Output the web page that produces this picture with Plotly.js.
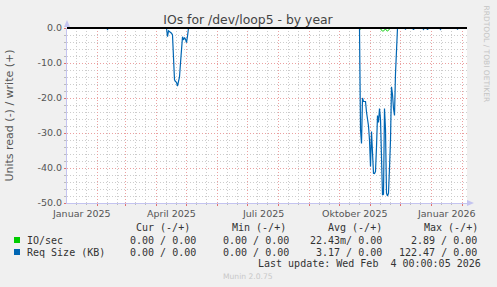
<!DOCTYPE html>
<html><head><meta charset="utf-8">
<script src="https://cdn.plot.ly/plotly-3.0.1.min.js"></script>
<style>html,body{margin:0;padding:0;background:#f0f0f0;}#chart{width:497px;height:287px;}</style>
</head><body><div id="chart"></div>
<script>
// ---- data ----
const reqDates = ['2025-01-01','2025-02-10','2025-02-11','2025-02-12',
 '2025-04-11','2025-04-12','2025-04-13','2025-04-14','2025-04-15','2025-04-16','2025-04-17','2025-04-18','2025-04-19','2025-04-20','2025-04-21','2025-04-22','2025-04-23','2025-04-24','2025-04-25','2025-04-26','2025-04-27','2025-04-28','2025-04-29','2025-04-30','2025-05-01','2025-05-02','2025-05-03',
 '2025-10-20','2025-10-21','2025-10-22','2025-10-23','2025-10-24','2025-10-25','2025-10-26','2025-10-27','2025-10-28','2025-10-29','2025-10-30','2025-10-31','2025-11-01','2025-11-02','2025-11-03','2025-11-04','2025-11-05','2025-11-06','2025-11-07','2025-11-08','2025-11-09','2025-11-10','2025-11-11','2025-11-12','2025-11-13','2025-11-14','2025-11-15','2025-11-16','2025-11-17','2025-11-18','2025-11-19','2025-11-20','2025-11-21','2025-11-22','2025-11-23','2025-11-24','2025-11-25','2025-11-26','2025-11-27','2025-11-28',
 '2025-12-05','2025-12-06','2025-12-07','2025-12-13','2025-12-14','2025-12-15','2025-12-23','2025-12-24','2025-12-25','2025-12-27','2025-12-28','2025-12-29','2026-01-09','2026-01-10','2026-01-11','2026-01-26','2026-01-27','2026-01-28','2026-02-04'];
const reqValues = [0,0,-0.4,0,
 0,-2.5,-0.8,-1.0,-1.2,-1.5,-2,-12,-14.8,-15.3,-15.5,-16.6,-15.5,-14,-10,-6,-2.5,-3.4,-2.7,-3.2,-4.2,-2.3,0,
 0,0,-29,-33,-20,-21,-21,-21,-24,-25.5,-28,-32,-39.6,-29.6,-38.6,-41.5,-41.6,-41,-34,-25,-27,-23,-26,-42.5,-47.7,-47.5,-23,-29,-47.2,-48,-47.2,-40,-32,-16.8,-19,-23,-25,-13,-3.4,0,
 0,-0.3,0,0,-0.5,0,0,-0.4,0,0,-0.5,0,0,-0.4,0,0,-0.3,0,0];

const ioDates = ['2025-01-01','2025-10-20','2025-10-22','2025-10-23','2025-10-24','2025-10-30','2025-11-03','2025-11-07','2025-11-09','2025-11-11','2025-11-12','2025-11-13','2025-11-14','2025-11-15','2025-11-16','2025-11-17','2025-11-18','2025-11-19','2025-11-20','2025-11-21','2026-02-04'];
const ioValues = [0,0,-0.3,-0.2,0,-0.1,-0.2,-0.1,0,-0.2,-0.6,-0.9,-0.8,-0.4,-0.3,-0.7,-0.9,-0.6,-0.1,0,0];

const yTickVals = [0,-10,-20,-30,-40,-50];
const yTickText = ['0.0','-10.0','-20.0','-30.0','-40.0','-50.0'];
const xLabelDates = ['2025-01-16','2025-04-16','2025-07-16','2025-10-16','2026-01-16'];
const xLabelText = ['Januar 2025','April 2025','Juli 2025','Oktober 2025','Januar 2026'];

const legendNames = ['IO/sec','Req Size (KB)'];
const legendColors = ['#00cc00','#0066b3'];
const legendHeaders = ['Cur (-/+)','Min (-/+)','Avg (-/+)','Max (-/+)'];
const curVals = ['0.00 / 0.00','0.00 / 0.00'];
const minVals = ['0.00 / 0.00','0.00 / 0.00'];
const avgVals = ['22.43m/ 0.00','3.17 / 0.00'];
const maxVals = ['2.89 / 0.00','122.47 / 0.00'];
const lastUpdate = 'Last update: Wed Feb  4 00:00:05 2026';
const titleText = 'IOs for /dev/loop5 - by year';
const yTitle = 'Units read (-) / write (+)';

// ---- layout helpers ----
const W = 497, H = 287, L = 67, R = 467, T = 28, B = 203;
const px = x => (x - L) / (R - L);
const py = y => (B - y) / (B - T);
const nb = s => s.replace(/ /g, '\u00a0');
const DOTS = '1px,2px';

// grid positions (month starts, and 11th/21st)
const monthStarts = [], minorDays = [];
for (let i = 0; i < 14; i++) {
  const y = 2025 + Math.floor(i / 12), m = (i % 12) + 1;
  const mm = String(m).padStart(2, '0');
  monthStarts.push(`${y}-${mm}-01`);
  minorDays.push(`${y}-${mm}-11`, `${y}-${mm}-21`);
}

const traces = [
  {x: ioDates, y: ioValues, type: 'scatter', mode: 'lines', line: {color: legendColors[0], width: 1}, hoverinfo: 'skip'},
  {x: reqDates, y: reqValues, type: 'scatter', mode: 'lines', line: {color: legendColors[1], width: 1.2}, hoverinfo: 'skip'}
];

const mono = {family: 'DejaVu Sans Mono', size: 10, color: '#333'};
const ann = [];
xLabelDates.forEach((d, i) => ann.push({x: d, xref: 'x', y: py(213), yref: 'paper', text: xLabelText[i], showarrow: false, xanchor: 'center', yanchor: 'middle', font: {family: 'DejaVu Sans', size: 9.5, color: '#555'}, borderpad: 0}));
const hdrLeft = [135, 231, 327, 423];
legendHeaders.forEach((h, i) => ann.push({x: px(hdrLeft[i]), xref: 'paper', y: py(227), yref: 'paper', text: nb(h), showarrow: false, xanchor: 'left', yanchor: 'middle', font: mono, borderpad: 0}));
const colRight = [197, 290, 383, 478];
const rowY = [240, 252];
legendNames.forEach((n, r) => {
  ann.push({x: px(26), xref: 'paper', y: py(rowY[r]), yref: 'paper', text: nb(n), showarrow: false, xanchor: 'left', yanchor: 'middle', font: mono, borderpad: 0});
  [curVals, minVals, avgVals, maxVals].forEach((arr, c) => ann.push({x: px(colRight[c]), xref: 'paper', y: py(rowY[r]), yref: 'paper', text: nb(arr[r]), showarrow: false, xanchor: 'right', yanchor: 'middle', font: mono, borderpad: 0}));
});
ann.push({x: px(482), xref: 'paper', y: py(263.5), yref: 'paper', text: nb(lastUpdate), showarrow: false, xanchor: 'right', yanchor: 'middle', font: mono, borderpad: 0});
ann.push({x: px(248), xref: 'paper', y: py(276), yref: 'paper', text: 'Munin 2.0.75', showarrow: false, xanchor: 'center', yanchor: 'middle', font: {family: 'DejaVu Sans', size: 7.6, color: '#c8c8c8'}, borderpad: 0});
ann.push({x: px(486), xref: 'paper', y: py(53.5), yref: 'paper', text: 'RRDTOOL / TOBI OETIKER', textangle: 90, showarrow: false, xanchor: 'center', yanchor: 'middle', font: {family: 'DejaVu Sans', size: 7.5, color: '#c4c4c4'}, borderpad: 0});

const shapes = [];
minorDays.forEach(d => {
  shapes.push({type: 'line', xref: 'x', yref: 'paper', x0: d, x1: d, y0: 0, y1: 1, line: {color: '#cccccc', width: 1, dash: DOTS}, layer: 'below'});
  shapes.push({type: 'line', xref: 'x', yref: 'paper', x0: d, x1: d, y0: -2 / 175, y1: 0, line: {color: '#bbbbbb', width: 1}, layer: 'below'});
});
legendColors.forEach((c, i) => shapes.push({type: 'rect', xref: 'paper', yref: 'paper', x0: px(14), x1: px(20), y0: py(rowY[i] - 3), y1: py(rowY[i] + 3), fillcolor: c, line: {width: 0}}));
shapes.push({type: 'line', xref: 'paper', yref: 'paper', x0: 0, x1: 1, y0: 1, y1: 1, line: {color: '#000', width: 2}, layer: 'above'});
const axc = '#c4c4f0';
shapes.push({type: 'path', xref: 'paper', yref: 'paper', path: `M ${px(64)} ${py(27)} L ${px(70)} ${py(27)} L ${px(67)} ${py(20)} Z`, fillcolor: axc, line: {width: 0}});
shapes.push({type: 'path', xref: 'paper', yref: 'paper', path: `M ${px(467)} ${py(200)} L ${px(467)} ${py(206)} L ${px(474)} ${py(203)} Z`, fillcolor: axc, line: {width: 0}});

const layout = {
  width: W, height: H,
  margin: {l: L, r: W - R, t: T, b: H - B, pad: 0},
  paper_bgcolor: '#f0f0f0', plot_bgcolor: '#ffffff',
  showlegend: false,
  title: {text: titleText, x: 248 / W, xref: 'container', xanchor: 'center', y: 1 - 19.5 / H, yref: 'container', yanchor: 'middle', font: {family: 'DejaVu Sans', size: 12.4, color: '#444'}},
  xaxis: {
    type: 'date', range: ['2025-01-01 12:00', '2026-02-05 12:00'], fixedrange: true,
    tickmode: 'array', tickvals: monthStarts, ticktext: monthStarts.map(() => ''),
    showgrid: true, gridcolor: '#eba0a0', griddash: DOTS, gridwidth: 1,
    ticks: 'outside', ticklen: 2, tickcolor: '#e07070', tickwidth: 1,
    showline: true, linecolor: axc, linewidth: 1, zeroline: false
  },
  yaxis: {
    range: [-50, 0], fixedrange: true,
    tickmode: 'array', tickvals: yTickVals, ticktext: yTickText,
    tickfont: {family: 'DejaVu Sans', size: 9.5, color: '#555'},
    showgrid: true, gridcolor: '#eba0a0', griddash: DOTS, gridwidth: 1,
    ticks: 'outside', ticklen: 2, tickcolor: '#e07070',
    minor: {dtick: 2, showgrid: true, gridcolor: '#cccccc', griddash: DOTS, gridwidth: 1, ticks: 'outside', ticklen: 2, tickcolor: '#bbbbbb'},
    showline: true, linecolor: axc, linewidth: 1, zeroline: false,
    title: {text: yTitle, standoff: 21, font: {family: 'DejaVu Sans', size: 11, color: '#555'}}
  },
  annotations: ann,
  shapes: shapes
};

Plotly.newPlot('chart', traces, layout, {staticPlot: true, displayModeBar: false});
</script></body></html>
